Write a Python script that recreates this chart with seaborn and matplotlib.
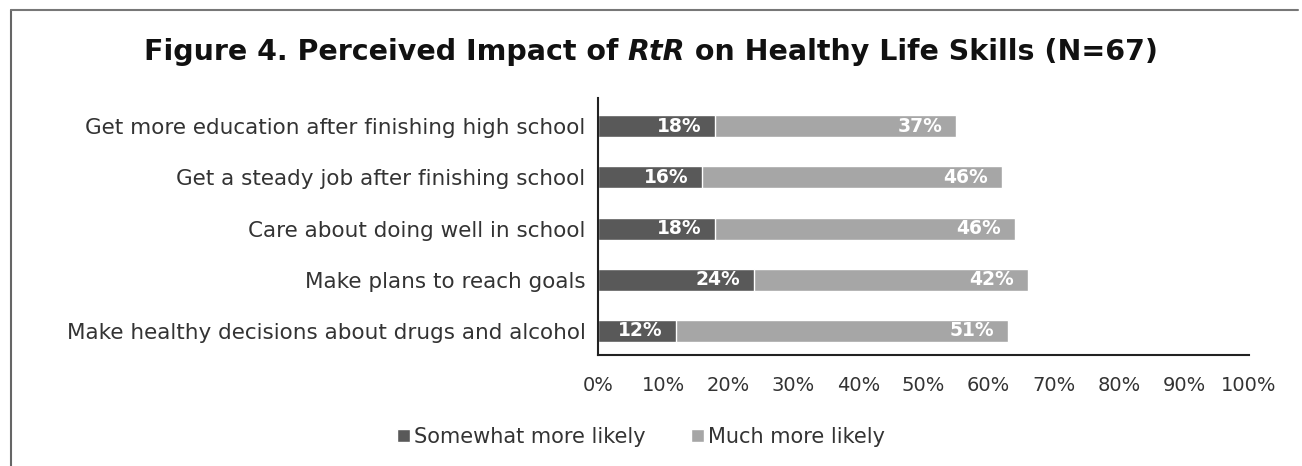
import pandas as pd
import matplotlib
matplotlib.use("Agg")
import matplotlib.pyplot as plt
import seaborn as sns
from matplotlib.patches import Patch
from matplotlib.lines import Line2D

# Chart data (percent of respondents)
categories = [
    "Get more education after finishing high school",
    "Get a steady job after finishing school",
    "Care about doing well in school",
    "Make plans to reach goals",
    "Make healthy decisions about drugs and alcohol",
]
somewhat_likely = [18, 16, 18, 24, 12]
much_likely = [37, 46, 46, 42, 51]
series_names = ["Somewhat more likely", "Much more likely"]
x_ticks = [0, 10, 20, 30, 40, 50, 60, 70, 80, 90, 100]

dark = "#595959"
light = "#a6a6a6"
text_color = "#333333"

df = pd.DataFrame({"item": categories, "somewhat": somewhat_likely, "much": much_likely})
df["total"] = df["somewhat"] + df["much"]

sns.set_style("white")
plt.rcParams["font.family"] = ["DejaVu Sans"]

W, H = 1302, 466
fig = plt.figure(figsize=(W / 100, H / 100), dpi=100)
ax = fig.add_axes([598 / W, 1 - 355 / H, 651 / W, 257 / H])

# stacked bars: full total in light gray, dark segment on top
sns.barplot(data=df, y="item", x="total", color=light, width=0.43,
            saturation=1, orient="h", ax=ax)
sns.barplot(data=df, y="item", x="somewhat", color=dark, width=0.43,
            saturation=1, orient="h", ax=ax)

# value labels inside the segment ends
for i, row in df.iterrows():
    ax.annotate(f"{row['somewhat']}%", (row["somewhat"], i), xytext=(-10, 0),
                textcoords="offset points", ha="right", va="center",
                color="white", fontsize=13.5, fontweight="bold")
    ax.annotate(f"{row['much']}%", (row["total"], i), xytext=(-10, 0),
                textcoords="offset points", ha="right", va="center",
                color="white", fontsize=13.5, fontweight="bold")

ax.set_xlim(0, 100)
ax.set_ylim(4.47, -0.55)
ax.set_xticks(x_ticks)
ax.set_xticklabels([f"{t}%" for t in x_ticks])
ax.set_xlabel("")
ax.set_ylabel("")
ax.tick_params(axis="x", length=0, pad=15, labelsize=14, labelcolor=text_color)
ax.tick_params(axis="y", length=0, pad=9, labelsize=15.5, labelcolor=text_color)
for side in ["top", "right"]:
    ax.spines[side].set_visible(False)
for side in ["left", "bottom"]:
    ax.spines[side].set_color("#222222")
    ax.spines[side].set_linewidth(1.5)

# legend
handles = [Patch(facecolor=dark, label=series_names[0]),
           Patch(facecolor=light, label=series_names[1])]
fig.legend(handles=handles, loc="center", bbox_to_anchor=(641 / W, 1 - 437 / H),
           ncol=2, frameon=False, fontsize=15, handlelength=0.6,
           handleheight=0.6, handletextpad=0.2, columnspacing=2.2,
           labelcolor=text_color)

# title with italic "RtR", assembled from pieces and centred
pieces = [("Figure 4. Perceived Impact of ", "normal"), ("RtR", "italic"),
          (" on Healthy Life Skills (N=67)", "normal")]
renderer = fig.canvas.get_renderer()
texts = []
x = 0
for s, style in pieces:
    t = fig.text(x, 1 - 52 / H, s, fontsize=20.5, fontweight="bold", style=style,
                 color="#111111", ha="left", va="center")
    bb = t.get_window_extent(renderer)
    texts.append((t, bb.width))
    x += bb.width / W
x0 = 651 / W - x / 2
for t, w in texts:
    t.set_x(x0)
    x0 += w / W

# outer frame of the scanned figure
fig.add_artist(Line2D([11 / W, 11 / W], [0, 1 - 10 / H], transform=fig.transFigure,
                      color="#666666", lw=1.5))
fig.add_artist(Line2D([11 / W, 1298 / W], [1 - 10 / H, 1 - 10 / H],
                      transform=fig.transFigure, color="#777777", lw=1.5))

fig.savefig("out.png", dpi=100)
